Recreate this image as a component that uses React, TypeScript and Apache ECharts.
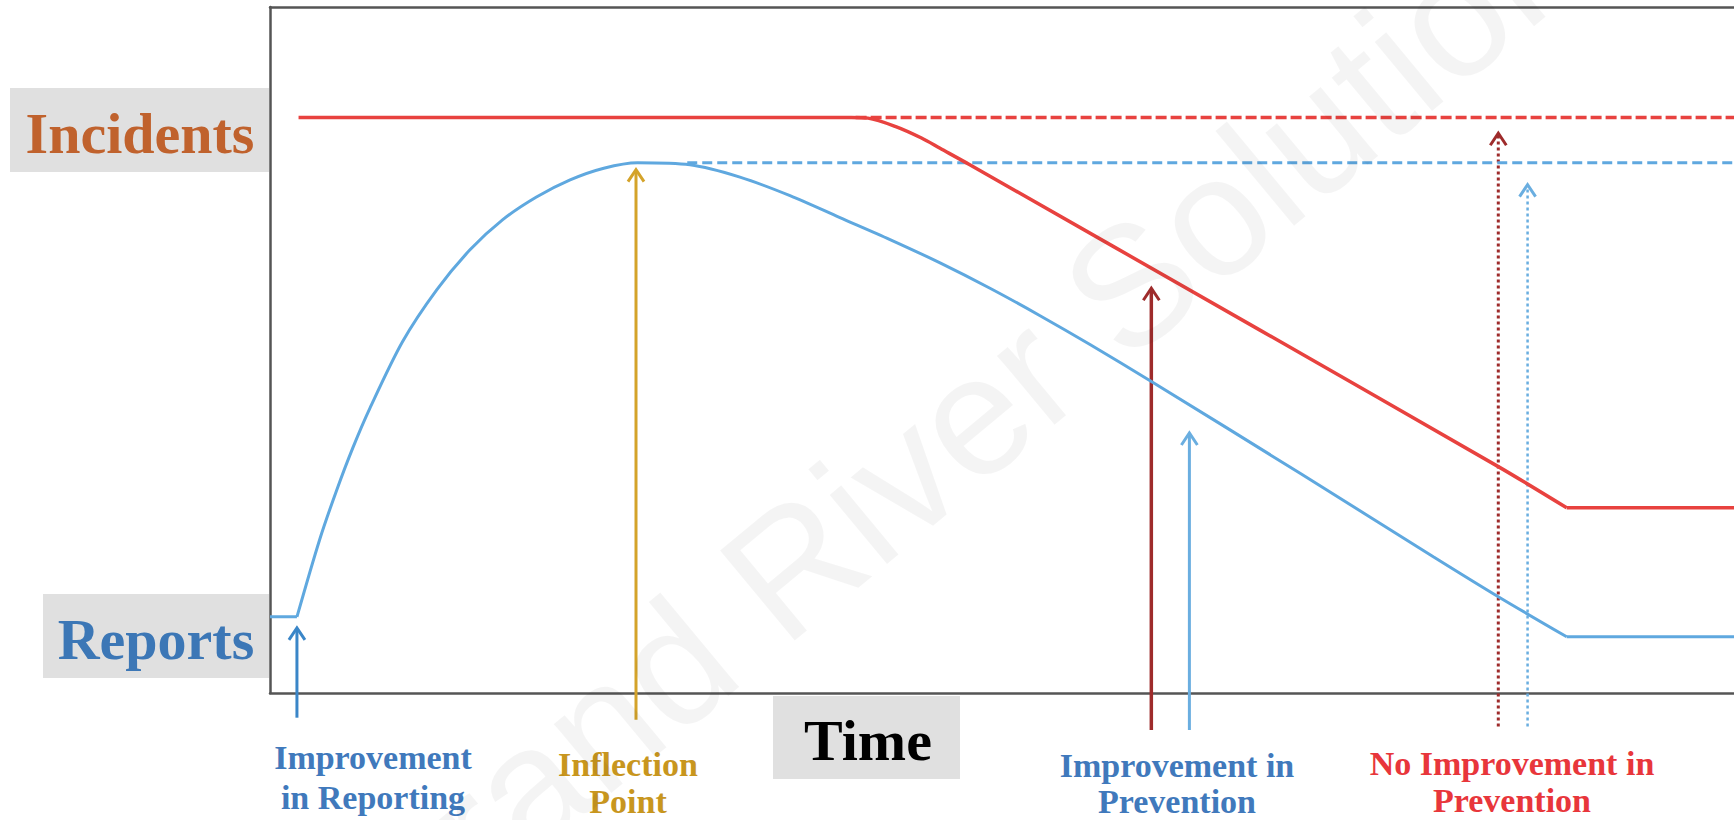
import React, { useEffect, useRef } from "react";
import * as echarts from "echarts";

// ---- data (time on x, level on y, both 0..100) ----
const INCIDENTS_CURVE: [number, number][] = [
  [1.95, 83.9], [39.7, 83.9], [40.85, 83.8], [42.7, 82.6], [44.5, 80.9],
  [45.77, 79.4], [47.8, 77.0], [67.62, 52.9], [83.9, 33.0], [88.57, 27.0],
];
const INCIDENTS_FLOOR: [number, number][] = [[88.57, 27.0], [100, 27.0]];
const INCIDENTS_NO_CHANGE: [number, number][] = [[40, 83.9], [100, 83.9]];

const REPORTS_START: [number, number][] = [[0, 11.1], [1.84, 11.1]];
const REPORTS_CURVE: [number, number][] = [
  [1.84, 11.1], [3.39, 22.35], [4.56, 29.6], [5.65, 35.7], [6.82, 41.5],
  [9.05, 51.2], [11.4, 58.8], [13.66, 64.6], [15.9, 69.0], [18.2, 72.3],
  [20.5, 74.8], [22.8, 76.5], [25.1, 77.3], [28.69, 77.0], [32.1, 75.2],
  [35.52, 72.5], [38.93, 69.3], [42.35, 66.1], [45.77, 62.7], [49.18, 59.0],
  [52.6, 55.0], [56.01, 50.8], [60.23, 45.38], [70.36, 32.03], [79.46, 19.87],
  [83.9, 14.04], [88.57, 8.2],
];
const REPORTS_FLOOR: [number, number][] = [[88.57, 8.2], [100, 8.2]];
const REPORTS_NO_CHANGE: [number, number][] = [[28.5, 77.3], [100, 77.3]];

// arrows: time position, start level (below axis) and tip level
const ARROW_NAMES = [
  "Improvement in Reporting",
  "Inflection Point",
  "Improvement in Prevention (incidents)",
  "Improvement in Prevention (reports)",
  "No Improvement in Prevention (incidents)",
  "No Improvement in Prevention (reports)",
];
const ARROW_X = [1.84, 25.0, 60.2, 62.8, 83.9, 85.9];
const ARROW_FROM = [-3.6, -3.9, -5.4, -5.4, -4.9, -4.9];
const ARROW_TO = [9.5, 76.3, 59.0, 37.9, 81.6, 74.1];

// ---- styles ----
const ARROW_STYLES = [
  { color: "#3A86C8", width: 3, dotted: false },
  { color: "#D4A32A", width: 3, dotted: false },
  { color: "#9E2B2B", width: 3.5, dotted: false },
  { color: "#6AAEE0", width: 3, dotted: false },
  { color: "#9E2B2B", width: 3, dotted: true },
  { color: "#6AAEE0", width: 2.5, dotted: true },
];
const RED = "#E8423F";
const BLUE = "#5FA8DF";
const SERIF = '"Liberation Serif", "Times New Roman", serif';
const BOX = "#E0E0E0";

function txt(text: string, x: number, y: number, size: number, color: string) {
  return {
    type: "text",
    z: 50,
    style: {
      text,
      x,
      y,
      fill: color,
      font: `bold ${size}px ${SERIF}`,
      lineHeight: size,
      textAlign: "center",
      textVerticalAlign: "middle",
    },
  };
}

export default function App() {
  const ref = useRef<HTMLDivElement>(null);
  useEffect(() => {
    const chart = echarts.init(ref.current!, null, { renderer: "svg" });
    const axisLine = { show: true, onZero: false, lineStyle: { color: "#555", width: 2.5 } };
    const hidden = {
      axisTick: { show: false },
      axisLabel: { show: false },
      splitLine: { show: false },
    };
    const line = (name: string, data: [number, number][], color: string, width: number, smooth: any, type: any = "solid") => ({
      type: "line",
      name,
      data,
      symbol: "none",
      smooth,
      silent: true,
      lineStyle: { color, width, type },
    });
    chart.setOption({
      animation: false,
      backgroundColor: "#ffffff",
      grid: { left: 270, top: 7, right: 0, bottom: 127 },
      xAxis: [
        { type: "value", min: 0, max: 100, axisLine, ...hidden },
        { type: "value", position: "top", min: 0, max: 100, axisLine, ...hidden },
      ],
      yAxis: { type: "value", min: 0, max: 100, axisLine, ...hidden },
      series: [
        line("Incidents (no improvement)", INCIDENTS_NO_CHANGE, RED, 3.5, false, [11, 4]),
        line("Reports (no improvement)", REPORTS_NO_CHANGE, BLUE, 3, false, [10, 5]),
        line("Incidents", INCIDENTS_CURVE, RED, 3.5, 0.3),
        line("Incidents floor", INCIDENTS_FLOOR, RED, 3.5, false),
        line("Reports start", REPORTS_START, BLUE, 3, false),
        line("Reports", REPORTS_CURVE, BLUE, 3, 0.3),
        line("Reports floor", REPORTS_FLOOR, BLUE, 3, false),
        {
          type: "custom",
          name: "Arrows",
          clip: false,
          silent: true,
          data: ARROW_X.map((x, i) => [x, ARROW_FROM[i], ARROW_TO[i], ARROW_NAMES[i]]),
          encode: { x: 0, y: [1, 2] },
          renderItem: (params: any, api: any) => {
            const i = params.dataIndex;
            const s = ARROW_STYLES[i];
            const b = api.coord([api.value(0), api.value(1)]);
            const t = api.coord([api.value(0), api.value(2)]);
            return {
              type: "group",
              children: [
                {
                  type: "line",
                  shape: { x1: b[0], y1: b[1], x2: t[0], y2: t[1] + 1 },
                  style: {
                    stroke: s.color,
                    lineWidth: s.width,
                    lineDash: s.dotted ? [3, 3] : null,
                    fill: "none",
                  },
                },
                {
                  type: "polyline",
                  shape: { points: [[t[0] - 8, t[1] + 12], [t[0], t[1]], [t[0] + 8, t[1] + 12]] },
                  style: { stroke: s.color, lineWidth: 3, fill: "none" },
                },
              ],
            };
          },
        },
      ],
      graphic: [
        { type: "rect", z: 40, shape: { x: 10, y: 88, width: 259, height: 84 }, style: { fill: BOX } },
        { type: "rect", z: 40, shape: { x: 43, y: 594, width: 226, height: 84 }, style: { fill: BOX } },
        { type: "rect", z: 40, shape: { x: 773, y: 696, width: 187, height: 83 }, style: { fill: BOX } },
        txt("Incidents", 140, 133, 58, "#C0622D"),
        txt("Reports", 156, 639, 58, "#3C77B6"),
        txt("Time", 868, 740, 58, "#000000"),
        txt("Improvement", 373, 757, 34, "#4079BC"),
        txt("in Reporting", 373, 797, 34, "#4079BC"),
        txt("Inflection", 628, 764, 34, "#C8961E"),
        txt("Point", 628, 801, 34, "#C8961E"),
        txt("Improvement in", 1177, 765, 34, "#4079BC"),
        txt("Prevention", 1177, 801, 34, "#4079BC"),
        txt("No Improvement in", 1512, 763, 34, "#E8363B"),
        txt("Prevention", 1512, 800, 34, "#E8363B"),
        {
          type: "text",
          z: 100,
          x: 986,
          y: 405,
          rotation: 0.693,
          silent: true,
          style: {
            text: "Grand River Solutions",
            x: 0,
            y: 0,
            fill: "rgba(0,0,0,0.045)",
            font: `170px "Liberation Sans", Arial, sans-serif`,
            textAlign: "center",
            textVerticalAlign: "middle",
          },
        },
      ],
    });
    return () => chart.dispose();
  }, []);
  return (
    <div
      ref={ref}
      style={{ position: "fixed", left: 0, top: 0, width: 1734, height: 820 }}
    />
  );
}
